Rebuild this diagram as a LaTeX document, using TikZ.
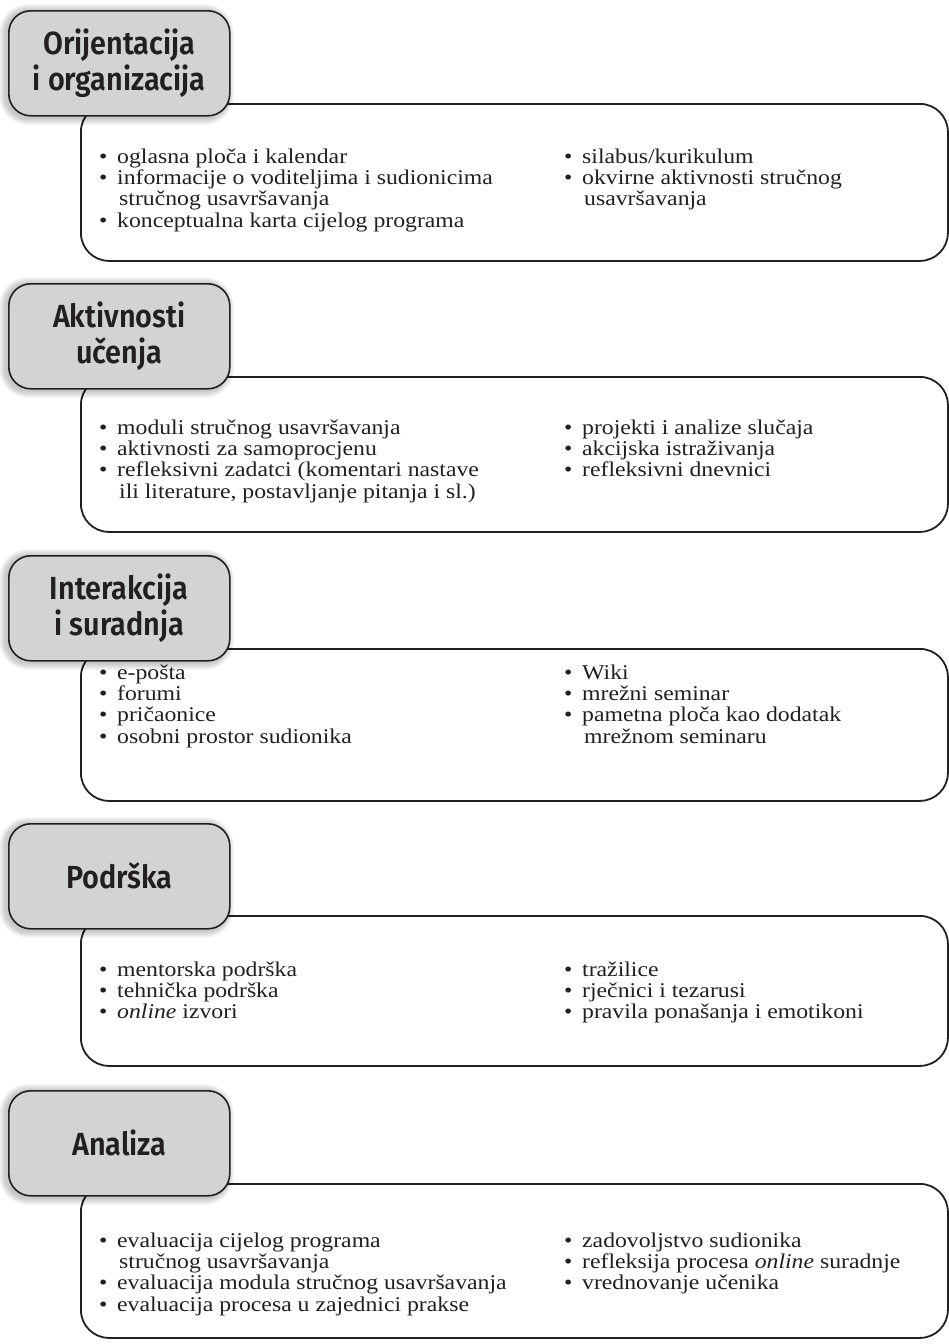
\documentclass[tikz,border=0pt]{standalone}
\usepackage{fontspec}
\setmainfont{Liberation Serif}[FakeStretch=1.13]
\newfontfamily\hfont{Fira Sans}[UprightFont={* SemiBold}, FakeStretch=0.9]
\definecolor{hdrfill}{HTML}{D2D3D5}
\definecolor{ink}{HTML}{231F20}
\newcommand\bitem[1]{\makebox[18pt][l]{\textbullet}#1\par}
\newcommand\citem[1]{\hspace*{20pt}#1\par}
\tikzset{
  contentbox/.style={draw=ink, line width=1.8pt, fill=white, rounded corners=28pt,
    minimum width=867pt, inner sep=0pt, anchor=north west},
  hdrbox/.style={draw=ink, line width=1.6pt, fill=hdrfill, rounded corners=22pt,
    minimum width=221pt, minimum height=105pt, inner sep=0pt, anchor=north west,
    align=center, text=ink, font=\hfont\fontsize{32}{36}\selectfont},
  bodytext/.style={anchor=base west, inner sep=0pt, text=ink,
    font=\fontsize{21}{21.4}\selectfont},
}
\newcommand\hshadow[1]{%
  \foreach \s in {1,...,7}{%
    \fill[black, opacity=0.03, rounded corners={22pt+\s pt}]
      ({8-\s-2},{#1-\s+1}) rectangle ({229+\s-2},{#1+105+\s+3});
  }%
}
\begin{document}
\begin{tikzpicture}[x=1pt, y={(0pt,-1pt)}]
\useasboundingbox (0,0) rectangle (949,1344);
\fill[white] (0,0) rectangle (949,1344);

% ---------- Section 1
\node[contentbox, minimum height=157pt] (c1) at (80,103) {};
\hshadow{10}
\node[hdrbox] (h1) at (8,10) {Orijentacija\\i organizacija};
\node[bodytext] (t1a) at (99,163) {\parbox[t]{460pt}{%
  \bitem{oglasna ploča i kalendar}
  \bitem{informacije o voditeljima i sudionicima}
  \citem{stručnog usavršavanja}
  \bitem{konceptualna karta cijelog programa}}};
\node[bodytext] (t1b) at (564,163) {\parbox[t]{360pt}{%
  \bitem{silabus/kurikulum}
  \bitem{okvirne aktivnosti stručnog}
  \citem{usavršavanja}}};

% ---------- Section 2
\node[contentbox, minimum height=155pt] (c2) at (80,376) {};
\hshadow{283}
\node[hdrbox] (h2) at (8,283) {Aktivnosti\\učenja};
\node[bodytext] (t2a) at (99,434) {\parbox[t]{460pt}{%
  \bitem{moduli stručnog usavršavanja}
  \bitem{aktivnosti za samoprocjenu}
  \bitem{refleksivni zadatci (komentari nastave}
  \citem{ili literature, postavljanje pitanja i sl.)}}};
\node[bodytext] (t2b) at (564,434) {\parbox[t]{360pt}{%
  \bitem{projekti i analize slučaja}
  \bitem{akcijska istraživanja}
  \bitem{refleksivni dnevnici}}};

% ---------- Section 3
\node[contentbox, minimum height=152pt] (c3) at (80,648) {};
\hshadow{555}
\node[hdrbox] (h3) at (8,555) {Interakcija\\i suradnja};
\node[bodytext] (t3a) at (99,679) {\parbox[t]{460pt}{%
  \bitem{e-pošta}
  \bitem{forumi}
  \bitem{pričaonice}
  \bitem{osobni prostor sudionika}}};
\node[bodytext] (t3b) at (564,679) {\parbox[t]{360pt}{%
  \bitem{Wiki}
  \bitem{mrežni seminar}
  \bitem{pametna ploča kao dodatak}
  \citem{mrežnom seminaru}}};

% ---------- Section 4
\node[contentbox, minimum height=150pt] (c4) at (80,915) {};
\hshadow{823}
\node[hdrbox] (h4) at (8,823) {Podrška};
\node[bodytext] (t4a) at (99,976) {\parbox[t]{460pt}{%
  \bitem{mentorska podrška}
  \bitem{tehnička podrška}
  \bitem{\textit{online} izvori}}};
\node[bodytext] (t4b) at (564,976) {\parbox[t]{360pt}{%
  \bitem{tražilice}
  \bitem{rječnici i tezarusi}
  \bitem{pravila ponašanja i emotikoni}}};

% ---------- Section 5
\node[contentbox, minimum height=154pt] (c5) at (80,1183) {};
\hshadow{1090}
\node[hdrbox] (h5) at (8,1090) {Analiza};
\node[bodytext] (t5a) at (99,1247) {\parbox[t]{460pt}{%
  \bitem{evaluacija cijelog programa}
  \citem{stručnog usavršavanja}
  \bitem{evaluacija modula stručnog usavršavanja}
  \bitem{evaluacija procesa u zajednici prakse}}};
\node[bodytext] (t5b) at (564,1247) {\parbox[t]{360pt}{%
  \bitem{zadovoljstvo sudionika}
  \bitem{refleksija procesa \textit{online} suradnje}
  \bitem{vrednovanje učenika}}};
\end{tikzpicture}
\end{document}
